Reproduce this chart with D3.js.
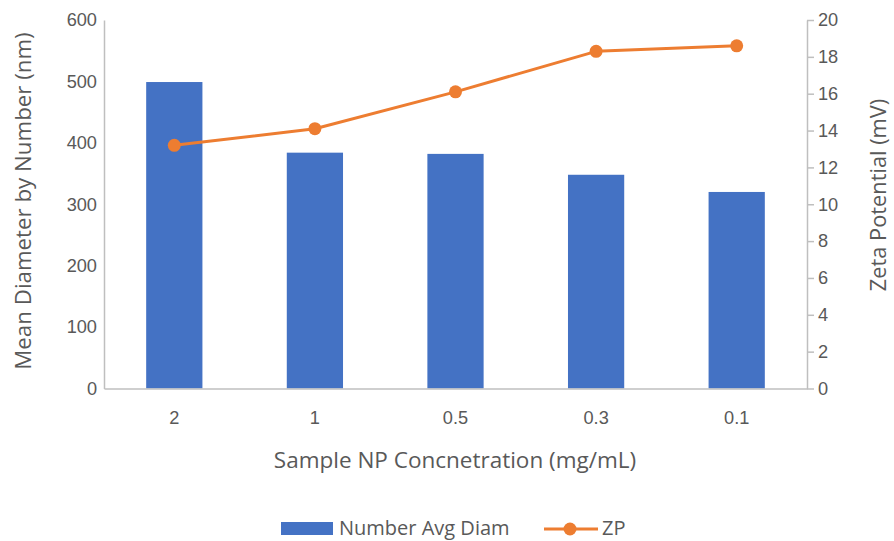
<!DOCTYPE html>
<html>
<head>
<meta charset="utf-8">
<script src="https://cdn.jsdelivr.net/npm/d3@7"></script>
<style>
  html, body { margin: 0; padding: 0; background: #fff; }
  svg { display: block; font-family: "Open Sans", "Liberation Sans", sans-serif; }
</style>
</head>
<body>
<svg id="chart" width="894" height="541"></svg>
<script>
const categories = ["2", "1", "0.5", "0.3", "0.1"];
const diameterValues = [499, 384, 382, 348, 320];
const zpValues = [13.2, 14.1, 16.1, 18.3, 18.6];
const leftTicks = [0, 100, 200, 300, 400, 500, 600];
const rightTicks = [0, 2, 4, 6, 8, 10, 12, 14, 16, 18, 20];
const seriesNames = ["Number Avg Diam", "ZP"];
const xTitle = "Sample NP Concnetration (mg/mL)";
const yLeftTitle = "Mean Diameter by Number (nm)";
const yRightTitle = "Zeta Potential (mV)";

const svg = d3.select("#chart");
const plot = { left: 104, right: 807, top: 20, bottom: 388.5 };
const textColor = "#595959";
const axisColor = "#BFBFBF";
const barColor = "#4472C4";
const lineColor = "#ED7D31";
const tickFont = "18.2px";

const x = d3.scaleBand().domain(categories).range([plot.left, plot.right]).paddingInner(0.6).paddingOuter(0.3);
const yL = d3.scaleLinear().domain([0, 600]).range([plot.bottom, plot.top]);
const yR = d3.scaleLinear().domain([0, 20]).range([plot.bottom, plot.top]);

// bars
svg.append("g").selectAll("rect").data(diameterValues).join("rect")
  .attr("x", (d, i) => x(categories[i]))
  .attr("y", d => yL(d))
  .attr("width", x.bandwidth())
  .attr("height", d => yL(0) - yL(d))
  .attr("fill", barColor);

// left axis
const gL = svg.append("g").attr("transform", `translate(${plot.left},0)`)
  .call(d3.axisLeft(yL).tickValues(leftTicks).tickSize(0).tickPadding(7));
gL.select(".domain").attr("stroke", axisColor).attr("stroke-width", 1.5);
gL.selectAll("text").attr("fill", textColor).style("font-size", tickFont).style("font-family", "inherit");

// right axis
const gR = svg.append("g").attr("transform", `translate(${plot.right},0)`)
  .call(d3.axisRight(yR).tickValues(rightTicks).tickSize(7).tickSizeOuter(0).tickPadding(4));
gR.select(".domain").attr("stroke", axisColor).attr("stroke-width", 1.5);
gR.selectAll(".tick line").attr("stroke", axisColor).attr("stroke-width", 1.5);
gR.selectAll("text").attr("fill", textColor).style("font-size", tickFont).style("font-family", "inherit");

// bottom axis
const gB = svg.append("g").attr("transform", `translate(0,${plot.bottom})`)
  .call(d3.axisBottom(x).tickSize(0).tickSizeOuter(0).tickPadding(23));
gB.select(".domain").attr("stroke", axisColor).attr("stroke-width", 1.5);
gB.selectAll("text").attr("fill", textColor).style("font-size", tickFont).style("font-family", "inherit");

// line series
const line = d3.line().x((d, i) => x(categories[i]) + x.bandwidth() / 2).y(d => yR(d));
svg.append("path").datum(zpValues).attr("d", line)
  .attr("fill", "none").attr("stroke", lineColor).attr("stroke-width", 3).attr("stroke-linejoin", "round");
svg.append("g").selectAll("circle").data(zpValues).join("circle")
  .attr("cx", (d, i) => x(categories[i]) + x.bandwidth() / 2)
  .attr("cy", d => yR(d))
  .attr("r", 6.5)
  .attr("fill", lineColor);

// titles
svg.append("text").attr("x", 455).attr("y", 468)
  .attr("text-anchor", "middle").attr("fill", textColor).style("font-size", "22.5px").text(xTitle);
svg.append("text").attr("transform", `translate(31,201) rotate(-90)`)
  .attr("text-anchor", "middle").attr("fill", textColor).style("font-size", "22.3px").text(yLeftTitle);
svg.append("text").attr("transform", `translate(886,195) rotate(-90)`)
  .attr("text-anchor", "middle").attr("fill", textColor).style("font-size", "21.8px").text(yRightTitle);

// legend
const leg = svg.append("g");
leg.append("rect").attr("x", 281).attr("y", 522).attr("width", 52).attr("height", 13).attr("fill", barColor);
leg.append("text").attr("x", 339).attr("y", 535).attr("fill", textColor).style("font-size", "20px").text(seriesNames[0]);
leg.append("line").attr("x1", 544).attr("x2", 598).attr("y1", 529).attr("y2", 529)
  .attr("stroke", lineColor).attr("stroke-width", 3);
leg.append("circle").attr("cx", 570).attr("cy", 529).attr("r", 6.5).attr("fill", lineColor);
leg.append("text").attr("x", 602).attr("y", 535).attr("fill", textColor).style("font-size", "20px").text(seriesNames[1]);
</script>
</body>
</html>
